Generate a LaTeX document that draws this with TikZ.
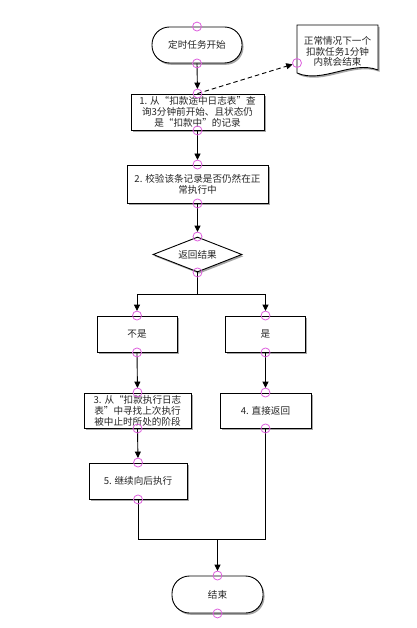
\documentclass[tikz,border=0pt]{standalone}
\usepackage{fontspec}
\newfontfamily\cjk{Noto Sans CJK SC}
\usetikzlibrary{arrows.meta,shadows,shapes.geometric}
\definecolor{pinkc}{RGB}{222,96,222}
\begin{document}
\begin{tikzpicture}[x=1pt,y=-1pt,
  every node/.style={font=\cjk\fontsize{9.6}{11}\selectfont, align=center, text=black!85, inner sep=0pt},
  shad/.style={drop shadow={shadow xshift=1.5pt,shadow yshift=-1.8pt,opacity=0.35,fill=black}},
  box/.style={draw=black, line width=0.9pt, fill=white, shad},
  term/.style={box, rounded corners=17.5pt},
  dec/.style={draw=black, line width=0.9pt, fill=white, diamond, aspect=2.5, shad},
  line/.style={draw=black, line width=0.9pt},
  arr/.style={line, -{Triangle[length=6.5pt,width=6pt]}, shorten >=4.5pt},
  pin/.style={draw=pinkc, line width=0.8pt}]
\useasboundingbox (0,0) rectangle (416,628);

\node[term, minimum width=90pt, minimum height=36pt] (start) at (197,45) {定时任务开始};
\node[box, minimum width=133pt, minimum height=36pt] (b1) at (197.5,112) {1. 从“扣款途中日志表”查\\询3分钟前开始、且状态仍\\是“扣款中”的记录};
\node[box, minimum width=141pt, minimum height=38pt] (b2) at (197.5,184) {2. 校验该条记录是否仍然在正\\常执行中};
\node[dec, minimum width=89pt, minimum height=35pt] (d) at (197.5,254.5) {返回结果};
\node[box, minimum width=80pt, minimum height=36pt] (no) at (137,334) {不是};
\node[box, minimum width=80pt, minimum height=36pt] (yes) at (265.5,334) {是};
\node[box, minimum width=107pt, minimum height=35pt] (b3) at (137.5,410.5) {3. 从“扣款执行日志\\表”中寻找上次执行\\被中止时所处的阶段};
\node[box, minimum width=91pt, minimum height=35pt] (b4) at (265.5,410.5) {4. 直接返回};
\node[box, minimum width=98pt, minimum height=36pt] (b5) at (138,481) {5. 继续向后执行};
\node[term, minimum width=91pt, minimum height=37pt] (end) at (217.5,594.5) {结束};

% note
\path[line, fill=white, shad] (297,25) -- (378,25) -- (378,70) .. controls (352,60) and (322,84) .. (297,73) -- cycle;
\node[font=\cjk\fontsize{9.6}{10.6}\selectfont] (note) at (337.5,51.5) {正常情况下一个\\扣款任务1分钟\\内就会结束};
\coordinate (notept) at (297,63);

\coordinate (split) at (197.5,294);
\coordinate (merge) at (217.5,539);

\draw[arr] (start.south) -- (b1.north);
\draw[arr] (b1.south) -- (b2.north);
\draw[arr] (b2.south) -- (d.north);
\draw[line] (d.south) -- (split);
\draw[arr] (split) -| (no.north);
\draw[arr] (split) -| (yes.north);
\draw[arr] (no.south) -- (b3.north);
\draw[arr] (yes.south) -- (b4.north);
\draw[arr] (b3.south) -- (b5.north);
\draw[line] (b5.south) |- (merge);
\draw[line] (b4.south) |- (merge);
\draw[arr] (merge) -- (end.north);
\draw[arr, dash pattern=on 4.5pt off 3pt] (b1.north) -- (notept);

\foreach \n in {start,b1,b2,d,no,yes,b3,b4,b5,end}{
  \draw[pin] (\n.north) circle (4.5);
  \draw[pin] (\n.south) circle (4.5);
}
\draw[pin] (notept) circle (4.5);
\end{tikzpicture}
\end{document}
